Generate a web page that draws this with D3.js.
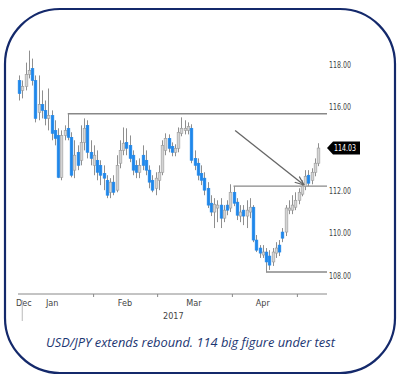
<!DOCTYPE html>
<html><head><meta charset="utf-8">
<script src="https://cdn.jsdelivr.net/npm/d3@7"></script>
<style>
html,body{margin:0;padding:0;background:#fff;}
svg{display:block;}
</style></head>
<body>
<svg id="chart" width="400" height="381"></svg>
<script>
// ---- Data (USD/JPY daily candles) ----
const opens  = [117.24,116.77,116.96,117.53,117.81,117.24,115.72,116.10,115.82,115.44,115.58,114.87,114.63,112.64,114.63,114.97,114.54,112.98,113.83,113.45,114.30,115.11,113.83,113.21,113.45,113.21,112.83,112.50,111.93,112.41,112.03,113.31,113.92,114.30,114.16,113.69,113.21,112.88,113.69,113.45,112.98,112.50,112.12,112.50,112.88,113.92,114.49,114.11,113.83,114.02,114.73,114.87,114.87,114.97,113.54,113.31,112.83,112.60,112.12,111.41,110.99,111.18,111.32,110.70,111.32,111.18,111.93,111.46,110.80,111.08,110.80,110.99,111.22,109.66,109.28,108.95,109.09,108.90,108.62,109.04,109.42,110.04,110.04,111.08,111.08,111.22,111.55,111.84,112.22,112.74,112.50,112.88,113.31];
const highs  = [117.48,117.24,118.09,118.66,118.28,117.48,117.48,116.77,116.29,116.86,115.82,115.35,114.97,114.87,115.11,115.66,114.78,114.40,114.16,115.11,115.44,115.35,114.40,114.16,113.92,113.45,113.21,112.74,112.60,112.74,113.69,114.40,115.01,114.97,114.63,113.92,113.45,113.54,114.16,113.92,113.21,112.74,112.88,113.21,114.40,114.73,114.68,114.30,114.21,115.01,115.49,115.35,115.25,115.16,113.92,113.54,113.21,112.88,112.41,111.79,111.65,111.55,111.65,111.32,111.55,112.31,112.22,111.65,111.32,111.32,111.55,111.65,111.32,109.90,109.42,109.42,109.28,109.18,109.28,109.56,109.66,110.23,111.32,111.55,111.79,111.93,112.12,112.50,112.98,112.98,113.07,113.54,114.26];
const lows   = [116.29,116.39,116.77,117.34,117.00,115.25,115.35,115.44,115.11,114.87,114.40,114.16,112.60,112.50,114.40,114.40,112.64,112.60,112.98,113.21,113.92,113.54,113.21,112.74,112.50,112.27,112.03,111.65,111.65,111.79,111.93,113.07,113.69,113.69,113.36,112.74,112.60,112.60,112.98,112.74,112.12,111.93,111.79,112.03,112.74,113.69,113.83,113.64,113.64,113.83,114.59,114.68,114.68,113.31,112.98,112.50,112.27,111.79,111.18,110.80,110.23,110.51,110.23,110.51,110.84,110.99,111.27,110.61,110.51,110.37,110.23,110.70,109.56,109.09,108.81,108.81,108.14,108.24,108.43,108.81,108.90,109.56,109.85,110.89,110.89,111.08,111.36,111.74,112.03,112.22,112.31,112.69,113.17];
const closes = [116.62,116.96,117.53,117.72,117.24,115.44,116.10,115.82,115.44,115.58,114.73,114.49,112.64,114.63,114.87,114.54,112.74,113.69,113.21,114.30,114.97,113.83,113.54,113.69,112.88,112.74,112.60,111.79,112.41,111.93,113.21,113.92,114.26,114.02,113.54,112.98,112.88,113.21,113.21,112.98,112.41,112.03,112.60,112.88,114.16,114.49,114.02,113.83,114.02,114.78,114.97,114.97,115.06,113.45,113.21,112.74,112.50,112.03,111.32,110.99,111.36,111.32,110.70,111.08,111.08,111.93,111.41,110.84,110.99,110.80,111.08,111.22,109.66,109.18,109.04,109.09,108.62,108.47,109.09,109.28,109.09,109.75,111.18,111.18,111.32,111.55,111.93,112.22,112.69,112.36,112.88,113.31,114.03];

const yTickValues = [108, 110, 112, 116, 118];
const monthLabels = ["Dec", "Jan", "Feb", "Mar", "Apr"];
const monthLabelIdx = [1.5, 10.2, 32.6, 53.8, 75.0];
const monthTickIdx = [22.8, 42.5, 65.5, 85.5];
const yearLabel = "2017";
const yearLabelIdx = 47.5;
const lastPrice = 114.03;
// horizontal levels: value and index of candle where the line starts
const levelValues = [115.66, 112.22, 108.14];
const levelStartIdx = [15, 66, 76];
const arrowFrom = {idx: 66.5, price: 114.87};
const arrowTo   = {idx: 87.5, price: 112.30};
const caption = "USD/JPY extends rebound. 114 big figure under test";

const candles = opens.map((o, i) => ({i, o, h: highs[i], l: lows[i], c: closes[i]}));

// ---- Scales ----
const x = d3.scaleLinear().domain([0, candles.length - 1]).range([19, 318]);
const y = d3.scaleLinear().domain([108, 118]).range([275, 64.5]);
const xEndIdx = x.invert(327);

const svg = d3.select("#chart");
const font = "'Liberation Sans Narrow','DejaVu Sans Condensed','Liberation Sans',sans-serif";

// border
svg.append("rect").attr("x", 5).attr("y", 9).attr("width", 390).attr("height", 364)
  .attr("rx", 55).attr("ry", 55).attr("fill", "#fff")
  .attr("stroke", "#14296b").attr("stroke-width", 2.2);

// marker
svg.append("defs").append("marker").attr("id", "arr")
  .attr("viewBox", "0 0 10 10").attr("refX", 9).attr("refY", 5)
  .attr("markerWidth", 7).attr("markerHeight", 7).attr("orient", "auto")
  .append("path").attr("d", "M0,1 L10,5 L0,9").attr("fill", "none")
  .attr("stroke", "#666").attr("stroke-width", 1.4);

// y axis (right)
const yAxis = d3.axisRight(y).tickValues(yTickValues).tickSize(0).tickPadding(0)
  .tickFormat(d3.format(".2f"));
const gy = svg.append("g").attr("transform", "translate(329,0)").call(yAxis);
gy.select(".domain").remove();
gy.selectAll("text").attr("font-family", font).attr("font-size", 9.5)
  .attr("fill", "#444").attr("textLength", 22).attr("lengthAdjust", "spacingAndGlyphs");

// x axis
const xAxis = d3.axisBottom(x).tickValues(monthTickIdx).tickSize(3).tickFormat("");
const gx = svg.append("g").attr("transform", "translate(0,294)").call(xAxis);
gx.select(".domain").attr("d", "M18,0H327").attr("stroke", "#888");
gx.selectAll(".tick line").attr("stroke", "#888");

svg.append("g").selectAll("text").data(monthLabels).join("text")
  .attr("x", (d, k) => x(monthLabelIdx[k])).attr("y", 306)
  .attr("text-anchor", "middle").attr("font-family", font).attr("font-size", 9)
  .attr("fill", "#444").text(d => d);
svg.append("text").attr("x", x(yearLabelIdx)).attr("y", 319)
  .attr("text-anchor", "middle").attr("font-family", font).attr("font-size", 9)
  .attr("fill", "#444").text(yearLabel);
svg.append("line").attr("x1", x(1)).attr("x2", x(1)).attr("y1", 300).attr("y2", 321)
  .attr("stroke", "#bbb").attr("stroke-width", 1);

// levels
const lv = svg.append("g").attr("stroke", "#888").attr("stroke-width", 1.4).attr("fill", "none");
levelValues.forEach((v, k) => {
  lv.append("line").attr("x1", x(levelStartIdx[k])).attr("x2", x(xEndIdx))
    .attr("y1", y(v)).attr("y2", y(v));
});

// candles
const bw = 2.7;
const g = svg.append("g");
g.selectAll("line.wick").data(candles).join("line").attr("class", "wick")
  .attr("x1", d => Math.round(x(d.i)) + 0.5).attr("x2", d => Math.round(x(d.i)) + 0.5)
  .attr("y1", d => y(d.h)).attr("y2", d => y(d.l))
  .attr("stroke", "#8f8f8f").attr("stroke-width", 1);
g.selectAll("rect.body").data(candles).join("rect").attr("class", "body")
  .attr("x", d => Math.round(x(d.i)) + 0.5 - bw / 2)
  .attr("y", d => y(Math.max(d.o, d.c)))
  .attr("width", bw)
  .attr("height", d => Math.max(1.2, Math.abs(y(d.o) - y(d.c))))
  .attr("fill", d => d.c >= d.o ? "#d4d4d4" : "#1f87ea")
  .attr("stroke", d => d.c >= d.o ? "#9a9a9a" : "#1f87ea")
  .attr("stroke-width", 0.6);

// arrow
svg.append("line").attr("x1", x(arrowFrom.idx)).attr("y1", y(arrowFrom.price))
  .attr("x2", x(arrowTo.idx)).attr("y2", y(arrowTo.price))
  .attr("stroke", "#666").attr("stroke-width", 1.3).attr("marker-end", "url(#arr)");

// price tag
const ty = y(lastPrice);
svg.append("path")
  .attr("d", `M327,${ty} L333,${ty - 6.5} L360,${ty - 6.5} L360,${ty + 6.5} L333,${ty + 6.5} Z`)
  .attr("fill", "#000");
svg.append("text").attr("x", 334).attr("y", ty + 3.3).attr("font-family", font)
  .attr("font-size", 9.5).attr("fill", "#fff")
  .attr("textLength", 22).attr("lengthAdjust", "spacingAndGlyphs").text(lastPrice.toFixed(2));

// caption
svg.append("text").attr("x", 46).attr("y", 347)
  .attr("font-family", "'Open Sans','Noto Sans',sans-serif").attr("font-style", "italic")
  .attr("font-size", 12.5).attr("fill", "#1c3672")
  .attr("textLength", 289).attr("lengthAdjust", "spacingAndGlyphs").text(caption);
</script>
</body></html>
